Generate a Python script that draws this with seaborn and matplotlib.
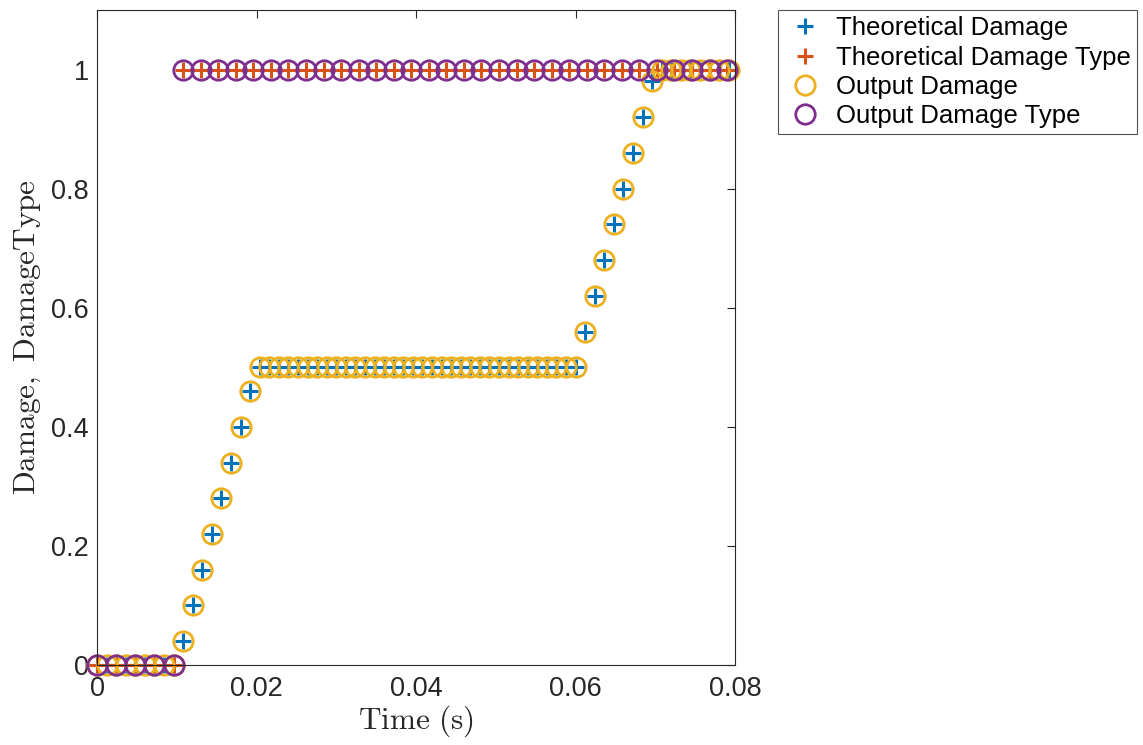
import matplotlib
matplotlib.use("Agg")
import matplotlib.pyplot as plt
import seaborn as sns
from matplotlib.ticker import FixedLocator, FixedFormatter

# Damage history (theoretical and simulated) sampled every 1.2 ms
time_damage = [0, 0.0012, 0.0024, 0.0036, 0.0048, 0.006, 0.0072, 0.0084, 0.0096,
               0.0108, 0.012, 0.0132, 0.0144, 0.0156, 0.0168, 0.018, 0.0192,
               0.0204, 0.0216, 0.0228, 0.024, 0.0252, 0.0264, 0.0276, 0.0288,
               0.03, 0.0312, 0.0324, 0.0336, 0.0348, 0.036, 0.0372, 0.0384,
               0.0396, 0.0408, 0.042, 0.0432, 0.0444, 0.0456, 0.0468, 0.048,
               0.0492, 0.0504, 0.0516, 0.0528, 0.054, 0.0552, 0.0564, 0.0576,
               0.0588, 0.06,
               0.0612, 0.0624, 0.0636, 0.0648, 0.066, 0.0672, 0.0684, 0.0696,
               0.0708, 0.072, 0.0732, 0.0744, 0.0756, 0.0768, 0.078, 0.0792]

theoretical_damage = [0, 0, 0, 0, 0, 0, 0, 0, 0,
                      0.04, 0.10, 0.16, 0.22, 0.28, 0.34, 0.40, 0.46,
                      0.5, 0.5, 0.5, 0.5, 0.5, 0.5, 0.5, 0.5, 0.5, 0.5,
                      0.5, 0.5, 0.5, 0.5, 0.5, 0.5, 0.5, 0.5, 0.5, 0.5,
                      0.5, 0.5, 0.5, 0.5, 0.5, 0.5, 0.5, 0.5, 0.5, 0.5,
                      0.5, 0.5, 0.5, 0.5,
                      0.56, 0.62, 0.68, 0.74, 0.80, 0.86, 0.92, 0.98,
                      1, 1, 1, 1, 1, 1, 1, 1]

output_damage = [0, 0, 0, 0, 0, 0, 0, 0, 0,
                 0.04, 0.10, 0.16, 0.22, 0.28, 0.34, 0.40, 0.46,
                 0.5, 0.5, 0.5, 0.5, 0.5, 0.5, 0.5, 0.5, 0.5, 0.5,
                 0.5, 0.5, 0.5, 0.5, 0.5, 0.5, 0.5, 0.5, 0.5, 0.5,
                 0.5, 0.5, 0.5, 0.5, 0.5, 0.5, 0.5, 0.5, 0.5, 0.5,
                 0.5, 0.5, 0.5, 0.5,
                 0.56, 0.62, 0.68, 0.74, 0.80, 0.86, 0.92, 0.98,
                 1, 1, 1, 1, 1, 1, 1, 1]

# Damage type history
time_type = [0, 0.0024, 0.0048, 0.0072, 0.0096,
             0.0108, 0.013, 0.0152, 0.0174, 0.0196, 0.0218, 0.024, 0.0262,
             0.0284, 0.0306, 0.0328, 0.035, 0.0372, 0.0394, 0.0416, 0.0438,
             0.046, 0.0482, 0.0504, 0.0526, 0.0548, 0.057, 0.0592, 0.0614,
             0.0636, 0.0658, 0.068, 0.0702, 0.0724, 0.0746, 0.0768, 0.079]
theoretical_type = [0, 0, 0, 0, 0] + [1] * 32
output_type = [0, 0, 0, 0, 0] + [1] * 32

x_ticks = [0, 0.02, 0.04, 0.06, 0.08]
x_tick_labels = ["0", "0.02", "0.04", "0.06", "0.08"]
y_ticks = [0, 0.2, 0.4, 0.6, 0.8, 1.0]
y_tick_labels = ["0", "0.2", "0.4", "0.6", "0.8", "1"]

BLUE = "#0072BD"
RED = "#D95319"
ORANGE = "#EDB120"
PURPLE = "#7E2F8E"
INK = "#262626"

sns.set_theme(style="white")
plt.rcParams["font.family"] = ["Liberation Sans", "DejaVu Sans"]
plt.rcParams["mathtext.fontset"] = "cm"

fig = plt.figure(figsize=(11.43, 7.45), dpi=100)
ax = fig.add_axes([0.0849, 0.1074, 0.5582, 0.8792])

plus_kw = dict(marker="+", linestyle="", markersize=11, markeredgewidth=2.2,
               estimator=None, sort=False, clip_on=False, ax=ax)
ring_kw = dict(marker="o", linestyle="", markersize=14, markeredgewidth=2.0,
               markerfacecolor="none", estimator=None, sort=False,
               clip_on=False, ax=ax)

sns.lineplot(x=time_damage, y=theoretical_damage, color=BLUE,
             markeredgecolor=BLUE, label="Theoretical Damage", **plus_kw)
sns.lineplot(x=time_type, y=theoretical_type, color=RED,
             markeredgecolor=RED, label="Theoretical Damage Type", **plus_kw)
sns.lineplot(x=time_damage, y=output_damage, color=ORANGE,
             markeredgecolor=ORANGE, label="Output Damage", **ring_kw)
sns.lineplot(x=time_type, y=output_type, color=PURPLE,
             markeredgecolor=PURPLE, label="Output Damage Type", **ring_kw)

ax.set_xlim(0, 0.08)
ax.set_ylim(0, 1.1)
ax.xaxis.set_major_locator(FixedLocator(x_ticks))
ax.xaxis.set_major_formatter(FixedFormatter(x_tick_labels))
ax.yaxis.set_major_locator(FixedLocator(y_ticks))
ax.yaxis.set_major_formatter(FixedFormatter(y_tick_labels))

ax.tick_params(direction="in", top=True, right=True, length=6, width=0.8,
               colors=INK, labelsize=19.5)
ax.tick_params(axis="x", pad=8)
ax.tick_params(axis="y", pad=6)
for sp in ax.spines.values():
    sp.set_color(INK)
    sp.set_linewidth(0.8)

ax.set_xlabel(r"$\mathrm{Time\ (s)}$", fontsize=22.5, color=INK, labelpad=1)
ax.set_ylabel(r"$\mathrm{Damage,\ DamageType}$", fontsize=22.5, color=INK,
              labelpad=6)

leg = ax.legend(loc="upper left", bbox_to_anchor=(1.067, 1.0),
                frameon=True, fancybox=False, fontsize=18.5, borderaxespad=0,
                handletextpad=0.4, labelspacing=0.2, borderpad=0.25,
                handlelength=1.6, numpoints=1)
leg.get_frame().set_edgecolor(INK)
leg.get_frame().set_linewidth(0.8)
for t in leg.get_texts():
    t.set_color("black")

fig.savefig("out.png", dpi=100, facecolor="white")
